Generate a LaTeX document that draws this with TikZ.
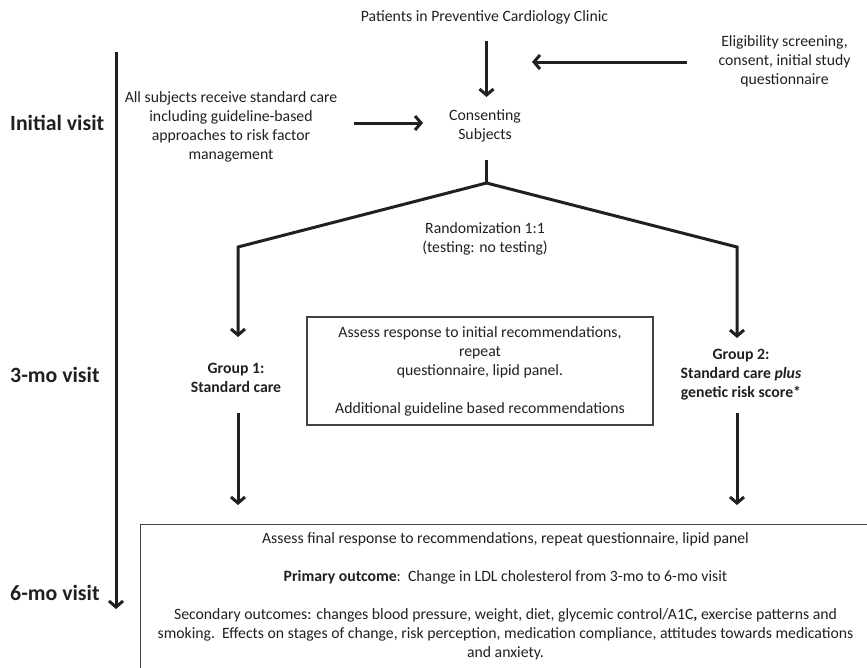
\documentclass[tikz,border=0pt]{standalone}
\usepackage{fontspec}
\setmainfont{Carlito}
\usetikzlibrary{arrows.meta,calc}
\definecolor{ink}{HTML}{231F20}
\begin{document}
\begin{tikzpicture}[x=1pt,y=-1pt,
  txt/.style={inner sep=0pt, outer sep=0pt, align=center, font=\fontsize{15.75}{19}\selectfont, text=ink},
  grp/.style={txt, font=\fontsize{15.75}{19}\selectfont\bfseries},
  visit/.style={inner sep=0pt, anchor=west, font=\fontsize{21.8}{26}\selectfont\bfseries, text=ink},
  stem/.style={draw=ink, line width=3pt},
  arr/.style={stem, -{Straight Barb[length=6pt,width=14pt]}},
  boxed/.style={draw=ink!85, line width=1.1pt},
]
\useasboundingbox (0,0) rectangle (867,667);

% timeline
\coordinate (tltop) at (116,52);
\coordinate (tlbot) at (116,609);
\draw[arr] (tltop) -- (tlbot);
\node[visit] (v0) at (10,123) {Initial visit};
\node[visit] (v3) at (10,375) {3-mo visit};
\node[visit] (v6) at (10,593) {6-mo visit};

% text nodes
\node[txt] (patients) at (484.5,17) {Patients in Preventive Cardiology Clinic};
\node[txt] (consenting) at (485,125.5) {Consenting\\Subjects};
\node[txt] (elig) at (784.5,61) {Eligibility screening,\\consent, initial study\\questionnaire};
\node[txt] (allsub) at (231,126.5) {All subjects receive standard care\\including guideline-based\\approaches to risk factor\\management};
\node[txt] (random) at (485,238.5) {Randomization 1:1\\(testing: no testing)};
\node[grp] (g1) at (236,377.5) {Group 1:\\Standard care};
\node[grp] (g2) at (741,375) {Group 2:\\Standard care \textit{plus}\\genetic risk score*};
\node[txt, boxed, minimum width=346pt, minimum height=108pt] (mid) at (480,371)
  {Assess response to initial recommendations,\\repeat\\questionnaire, lipid panel.\\[19pt]Additional guideline based recommendations};

% final box
\node[boxed, inner sep=0pt, minimum width=731pt, minimum height=170pt, anchor=north west] (final) at (140,524) {};
\node[txt] (finaltxt) at (505.5,596)
  {Assess final response to recommendations, repeat questionnaire, lipid panel\\[19pt]
   \textbf{Primary outcome}:\ \ Change in LDL cholesterol from 3-mo to 6-mo visit\\[19pt]
   Secondary outcomes: changes blood pressure, weight, diet, glycemic control/A1C\textbf{,} exercise patterns and\\
   smoking.\ \ Effects on stages of change, risk perception, medication compliance, attitudes towards medications\\
   and anxiety.};

% helper coordinates
\coordinate (joinpt) at (532,62);
\coordinate (split) at (486.5,183);
\coordinate (lcorner) at (238,247);
\coordinate (rcorner) at (737,247);

% connectors
\draw[arr] ($(patients)+(2,24)$) -- ($(consenting)+(1.5,-28.5)$);
\draw[arr] ($(elig)+(-97.5,1)$) -- (joinpt);
\draw[arr] ($(allsub)+(123,-3.5)$) -- ($(consenting)+(-62,-2.5)$);
\draw[stem] ($(consenting)+(1.5,34.5)$) -- (split);
\draw[arr, line join=miter] (split) -- (lcorner) -- ($(g1)+(2,-40.5)$);
\draw[arr, line join=miter] (split) -- (rcorner) -- ($(g2)+(-4,-37)$);
\draw[arr] ($(g1)+(2,35.5)$) -- ($(final.north west)+(98,-19)$);
\draw[arr] ($(g2)+(-4,38)$) -- ($(final.north west)+(597,-19)$);
\end{tikzpicture}
\end{document}
